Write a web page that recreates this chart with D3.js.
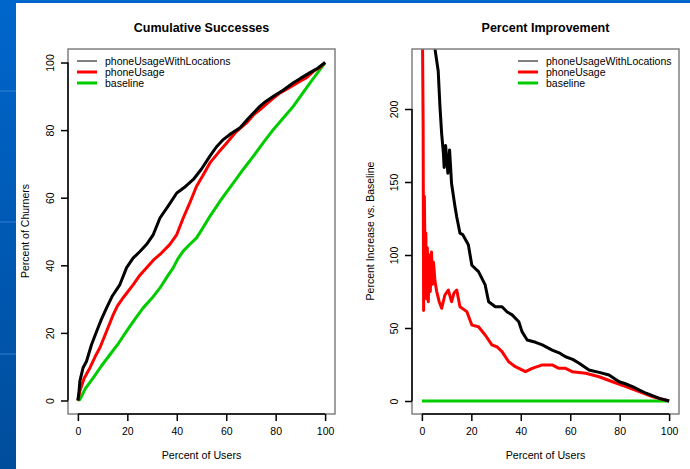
<!DOCTYPE html>
<html>
<head>
<meta charset="utf-8">
<script src="https://cdn.jsdelivr.net/npm/d3@7"></script>
<style>
  body { margin: 0; background: #fff; }
  text { font-family: "Liberation Sans", Arial, sans-serif; }
</style>
</head>
<body>
<div id="my_datavis"></div>
<script>
// data: [percent of users, value]
var seriesNames = ["phoneUsageWithLocations", "phoneUsage", "baseline"];
var seriesColors = ["#000000", "#ff0000", "#00cc00"];
var xTicks = [0, 20, 40, 60, 80, 100];
var cumTicks = [0, 20, 40, 60, 80, 100];
var impTicks = [0, 50, 100, 150, 200];

var cumWithLoc = [[0,0],[0.5,3],[0.8,5.7],[2.1,9.7],[3.5,11.6],[5.5,16.5],[7.6,20.5],[9.5,24],[11.6,27.4],[14,31],
  [17,34.3],[19.7,39.3],[22.4,42.2],[25,44],[27.8,46.2],[30.5,49.1],[33.2,54],[36.5,57.5],[40,61.4],[43,63],
  [46.7,65.4],[50,68.5],[53.4,72.3],[56,75],[58.8,77.2],[62,79],[65.6,80.7],[69,83.5],[73.7,87.1],[76,88.5],
  [79.1,90],[83,91.8],[87.2,94],[90,95.3],[93.9,97],[97,98.3],[100,100]];
var cumPhone = [[0,0],[0.8,2.8],[2.5,6.5],[4.9,9.7],[7,13],[8.9,15.6],[11.6,20.5],[14.3,25.4],[16,28],[18.3,30.4],
  [22.4,34.3],[25,37],[27.8,39.3],[30.5,41.5],[33.2,43.2],[37.2,46.2],[40,49.1],[42.6,54],[45,58],[48,63.4],
  [50.5,66.5],[53.4,70.3],[57,73.5],[60.2,76.2],[64,79.5],[68.3,82.2],[71,84.5],[73.7,86.1],[78,88.8],[81.8,91],
  [86,92.8],[89.9,94.5],[92.5,95.5],[95.3,97.4],[98,98.6],[100,100]];
var cumBase = [[0,0],[0.8,0.3],[3,3.5],[6.2,6.7],[9.5,10.2],[13,13.6],[16.5,17],[19.7,20.5],[23,24],[26.4,27.4],
  [30,30.3],[33.2,33.3],[36,36.5],[38.6,39.3],[40.5,42],[42.6,44.2],[45,46],[48,48.1],[50.5,51],[53.4,54.5],
  [58,59.5],[62.9,64.4],[67,68.5],[71,72.3],[75,76.3],[79.1,80.2],[83,83.5],[87.2,87.1],[90.5,90.5],[93.9,94],
  [97,97],[100,100]];

var impWithLoc = [[0.3,420],[2,330],[4,270],[5.3,241],[6.6,226],[7.3,202],[8,183],[8.7,170],[9,160],[9.6,175],
  [10.5,156],[11.2,172],[12,149],[13.4,133],[14.1,126],[15.4,115],[16.5,114],[18.8,107],[20.2,93],[22.9,88.6],
  [25.6,79.5],[27,68],[29.7,64.6],[32.4,64.6],[34.5,61],[36.5,59],[39.2,54.3],[40.5,47.5],[42.6,41.8],[46,40.2],
  [48.7,38.4],[52.7,34.9],[55.5,33],[58.1,30.3],[61,28.5],[63.6,25.8],[67.6,21.2],[71.7,19.6],[75.7,17.8],[79.8,13.2],
  [82,12],[85.2,9.8],[88,7.5],[90.7,5.3],[93.5,3.5],[96.1,1.8],[100,0]];
var impPhone = [[0.2,260],[0.5,190],[0.7,62],[1,140],[1.3,95],[1.6,115],[1.9,70],[2.2,105],[2.6,68],[3,100],
  [3.4,75],[3.9,102],[4.3,80],[4.7,95],[5.3,82],[6,75],[7,68],[8,63.5],[9.3,72.6],[10.7,76],
  [12,68],[13,74],[14.1,76],[15.4,64.6],[18.2,61.2],[20.2,52],[22.9,50.9],[25.6,45.2],[28.3,38.4],[30.5,37],
  [32.4,33.8],[35.1,26.9],[37.8,23.5],[41.9,20.1],[44.6,22.4],[48.7,24.7],[52.7,24.7],[55.4,22.4],[58.1,22.4],[60.8,20.1],
  [66.3,19],[71.7,16.6],[77.1,13.2],[82.5,9.8],[87.9,6.4],[93.4,2.9],[100,0]];
var impBase = [[0,0],[100,0]];

var W = 690, H = 469;

var svg = d3.select("#my_datavis")
  .append("svg")
  .attr("width", W)
  .attr("height", H);

// slide background
var grad = svg.append("defs").append("linearGradient")
  .attr("id", "slideBlue").attr("x1", 0).attr("y1", 0).attr("x2", 0).attr("y2", 1);
grad.append("stop").attr("offset", "0%").attr("stop-color", "#0066cc");
grad.append("stop").attr("offset", "100%").attr("stop-color", "#004d9c");

svg.append("rect").attr("width", W).attr("height", H).attr("fill", "#fff");
svg.append("rect").attr("width", 16).attr("height", H).attr("fill", "url(#slideBlue)");
svg.append("rect").attr("width", W).attr("height", 3).attr("fill", "#0066cc");
[90, 221, 353].forEach(function(y) {
  svg.append("rect").attr("x", 0).attr("y", y).attr("width", 16).attr("height", 2)
    .attr("fill", "#3d8ad8").attr("opacity", 0.4);
});

function panel(opts) {
  var g = svg.append("g");
  var x = d3.scaleLinear().domain([-4, 104]).range([opts.left, opts.right]);
  var y = d3.scaleLinear().domain(opts.yDomain).range([414, 49]);

  g.append("clipPath").attr("id", opts.id)
    .append("rect")
    .attr("x", opts.left).attr("y", 49)
    .attr("width", opts.right - opts.left).attr("height", 414 - 49);

  var line = d3.line()
    .x(function(d) { return x(d[0]); })
    .y(function(d) { return y(d[1]); });

  // draw baseline first, then the models on top
  var order = [2, 1, 0];
  order.forEach(function(i) {
    g.append("path")
      .datum(opts.data[i])
      .attr("clip-path", "url(#" + opts.id + ")")
      .attr("fill", "none")
      .attr("stroke", seriesColors[i])
      .attr("stroke-width", 3)
      .attr("stroke-linejoin", "round")
      .attr("d", line);
  });

  // box
  g.append("rect")
    .attr("x", opts.left).attr("y", 49)
    .attr("width", opts.right - opts.left).attr("height", 414 - 49)
    .attr("fill", "none").attr("stroke", "#808080").attr("stroke-width", 1.5);

  // x axis
  var xa = g.append("g")
    .attr("transform", "translate(0,414)")
    .call(d3.axisBottom(x).tickValues(xTicks).tickSize(7).tickPadding(7).tickSizeOuter(0));
  xa.select(".domain").remove();
  g.append("line")
    .attr("x1", x(xTicks[0])).attr("x2", x(xTicks[xTicks.length - 1]))
    .attr("y1", 414).attr("y2", 414)
    .attr("stroke", "#000").attr("stroke-width", 1.5);

  // y axis
  var ya = g.append("g")
    .attr("transform", "translate(" + opts.left + ",0)")
    .call(d3.axisLeft(y).tickValues(opts.yTicks).tickSize(7).tickSizeOuter(0));
  ya.select(".domain").remove();
  ya.selectAll("text")
    .attr("x", 0).attr("dy", null)
    .attr("y", 0)
    .attr("transform", "translate(-14,0) rotate(-90)")
    .style("text-anchor", "middle");
  g.append("line")
    .attr("x1", opts.left).attr("x2", opts.left)
    .attr("y1", y(opts.yTicks[0])).attr("y2", y(opts.yTicks[opts.yTicks.length - 1]))
    .attr("stroke", "#000").attr("stroke-width", 1.5);

  g.selectAll(".tick line").attr("stroke", "#000").attr("stroke-width", 1.5);
  g.selectAll(".tick text").attr("font-size", 10.5).attr("fill", "#000")
    .style("font-family", "'Liberation Sans', Arial, sans-serif");

  // titles
  var cx = (opts.left + opts.right) / 2;
  g.append("text")
    .attr("x", cx).attr("y", 32)
    .attr("text-anchor", "middle")
    .attr("font-size", 12.5).attr("font-weight", "bold")
    .text(opts.title);
  g.append("text")
    .attr("x", cx).attr("y", 459)
    .attr("text-anchor", "middle")
    .attr("font-size", 10.7)
    .text("Percent of Users");
  g.append("text")
    .attr("transform", "translate(" + opts.ylabX + ",231) rotate(-90)")
    .attr("text-anchor", "middle")
    .attr("font-size", 10.5)
    .text(opts.ylab);

  // legend
  seriesNames.forEach(function(name, i) {
    var ly = 61 + i * 11;
    g.append("line")
      .attr("x1", opts.legX).attr("x2", opts.legX + 20)
      .attr("y1", ly).attr("y2", ly)
      .attr("stroke", seriesColors[i])
      .attr("stroke-width", i === 0 ? 1 : 3);
    g.append("text")
      .attr("x", opts.legX + 28).attr("y", ly + 3.5)
      .attr("font-size", 10.5)
      .text(name);
  });
}

panel({
  id: "clipLeft", left: 68, right: 335,
  yDomain: [-4, 104], yTicks: cumTicks,
  data: [cumWithLoc, cumPhone, cumBase],
  title: "Cumulative Successes", ylab: "Percent of Churners", ylabX: 29,
  legX: 77
});

panel({
  id: "clipRight", left: 412, right: 679,
  yDomain: [-8.9, 241.1], yTicks: impTicks,
  data: [impWithLoc, impPhone, impBase],
  title: "Percent Improvement", ylab: "Percent Increase vs. Baseline", ylabX: 374,
  legX: 518
});
</script>
</body>
</html>
